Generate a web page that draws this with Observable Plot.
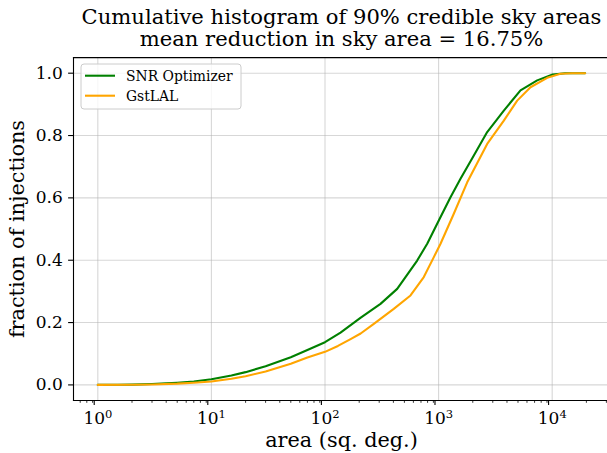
<!DOCTYPE html>
<html>
<head>
<meta charset="utf-8">
<script src="https://cdn.jsdelivr.net/npm/d3@7"></script>
<script src="https://cdn.jsdelivr.net/npm/@observablehq/plot@0.6"></script>
<style>
  html, body { margin: 0; padding: 0; background: #fff; overflow: hidden; }
  #chart { width: 607px; height: 453px; position: relative; font-family: "DejaVu Serif", serif; }
  #title {
    box-sizing: border-box;
    height: 50px;
    width: 610px;
    padding: 5.7px 0 0 73px;
    text-align: center;
    font-size: 21.1px;
    line-height: 22.4px;
    color: #000;
    white-space: nowrap;
  }
</style>
</head>
<body>
<div id="chart">
  <div id="title">Cumulative histogram of 90% credible sky areas<br>mean reduction in sky area = 16.75%</div>
</div>
<script>
// Cumulative fraction of injections below each 90% credible area (sq. deg.)
const seriesNames = ["SNR Optimizer", "GstLAL"];
const seriesColors = ["green", "orange"];

const snrArea = [1, 1.5, 2, 3, 4, 5, 7, 10, 15, 20, 30, 50, 70, 100, 137, 205, 308, 432, 648, 794, 1012, 1273, 1559, 2043, 2678, 3753, 5260, 7380, 10100, 13000, 19500];
const snrFrac = [0, 0.0005, 0.001, 0.003, 0.005, 0.007, 0.011, 0.018, 0.030, 0.041, 0.060, 0.089, 0.112, 0.137, 0.168, 0.215, 0.260, 0.308, 0.399, 0.453, 0.530, 0.602, 0.661, 0.736, 0.811, 0.880, 0.945, 0.977, 0.996, 1.0, 1.0];

const gstArea = [1, 2, 3, 5, 7, 10, 15, 20, 30, 50, 70, 100, 130, 168, 206, 269, 403, 566, 741, 908, 1040, 1361, 1786, 2678, 3753, 4920, 6440, 9040, 11830, 15000, 19500];
const gstFrac = [0, 0.0005, 0.0015, 0.004, 0.007, 0.011, 0.020, 0.028, 0.043, 0.068, 0.088, 0.106, 0.125, 0.147, 0.165, 0.196, 0.244, 0.287, 0.346, 0.410, 0.453, 0.549, 0.650, 0.773, 0.848, 0.912, 0.955, 0.985, 0.998, 1.0, 1.0];

const xDecades = [1, 10, 100, 1000, 10000];
const xExponents = ["0", "1", "2", "3", "4"];
const yTicks = [0, 0.2, 0.4, 0.6, 0.8, 1.0];
const xLabel = "area (sq. deg.)";
const yLabel = "fraction of injections";

const snr = snrArea.map((a, i) => ({area: a, fraction: snrFrac[i]}));
const gst = gstArea.map((a, i) => ({area: a, fraction: gstFrac[i]}));

// minor log ticks (2..9 per decade) across the visible range
const xDomain = [Math.pow(10, -0.214), Math.pow(10, 4.487)];
const xMinor = [];
for (let e = -1; e <= 4; e++) {
  for (let m = 2; m <= 9; m++) {
    const v = m * Math.pow(10, e);
    if (v >= xDomain[0] && v <= xDomain[1]) xMinor.push(v);
  }
}

const exponentOf = d => xExponents[xDecades.indexOf(d)];
const gridStyle = {stroke: "#b0b0b0", strokeOpacity: 0.5, strokeWidth: 1.1};

const svg = Plot.plot({
  width: 607,
  height: 403,
  marginLeft: 73,
  marginRight: 0,
  marginTop: 7.1,
  marginBottom: 53,
  style: {fontFamily: "DejaVu Serif", background: "transparent", color: "#000"},
  x: {type: "log", domain: xDomain},
  y: {domain: [-0.05, 1.05]},
  marks: [
    Plot.gridX(xDecades, gridStyle),
    Plot.gridY(yTicks, gridStyle),
    Plot.line(snr, {x: "area", y: "fraction", stroke: seriesColors[0], strokeWidth: 2.1}),
    Plot.line(gst, {x: "area", y: "fraction", stroke: seriesColors[1], strokeWidth: 2.1}),
    Plot.frame({anchor: "left", stroke: "#000", strokeWidth: 1.1}),
    Plot.frame({anchor: "top", stroke: "#000", strokeWidth: 1.1}),
    Plot.frame({anchor: "bottom", stroke: "#000", strokeWidth: 1.1}),
    Plot.axisY(yTicks, {tickSize: 4.9, tickPadding: 5.8, tickFormat: d3.format(".1f"), fontSize: 17, label: null, strokeWidth: 1.1}),
    Plot.axisX(xDecades, {tickSize: 4.9, tickPadding: 6.7, tickFormat: () => "10", dx: -3.6, fontSize: 17, label: null, strokeWidth: 1.1}),
    Plot.axisX(xDecades, {tickSize: 0, tickPadding: 11.6, tickFormat: exponentOf, textAnchor: "start", dx: 7.2, dy: -2.5, fontSize: 11.5, label: null}),
    Plot.axisX(xMinor, {tickSize: 2.8, tickFormat: () => "", label: null, strokeWidth: 0.8}),
    Plot.text([yLabel], {text: d => d, frameAnchor: "left", textAnchor: "middle", rotate: -90, dx: -55.7, fontSize: 20.8}),
    Plot.text([xLabel], {text: d => d, frameAnchor: "bottom", textAnchor: "middle", lineAnchor: "top", dx: 1, dy: 31.9, fontSize: 20.8})
  ]
});

// legend box in the upper-left corner of the plot area
const legend = d3.select(svg).append("g")
  .attr("font-family", "DejaVu Serif").attr("font-size", 13.9).attr("text-anchor", "start");
legend.append("rect")
  .attr("x", 81).attr("y", 14).attr("width", 160).attr("height", 45)
  .attr("rx", 3).attr("fill", "#fff").attr("fill-opacity", 0.8)
  .attr("stroke", "#cccccc").attr("stroke-width", 1);
seriesNames.forEach((name, i) => {
  const cy = 25.7 + i * 20;
  legend.append("line")
    .attr("x1", 85).attr("x2", 115).attr("y1", cy).attr("y2", cy)
    .attr("stroke", seriesColors[i]).attr("stroke-width", 2.1);
  legend.append("text")
    .attr("x", 126).attr("y", cy + 5).attr("fill", "#000").attr("text-anchor", "start").text(name);
});

document.getElementById("chart").appendChild(svg);
</script>
</body>
</html>
